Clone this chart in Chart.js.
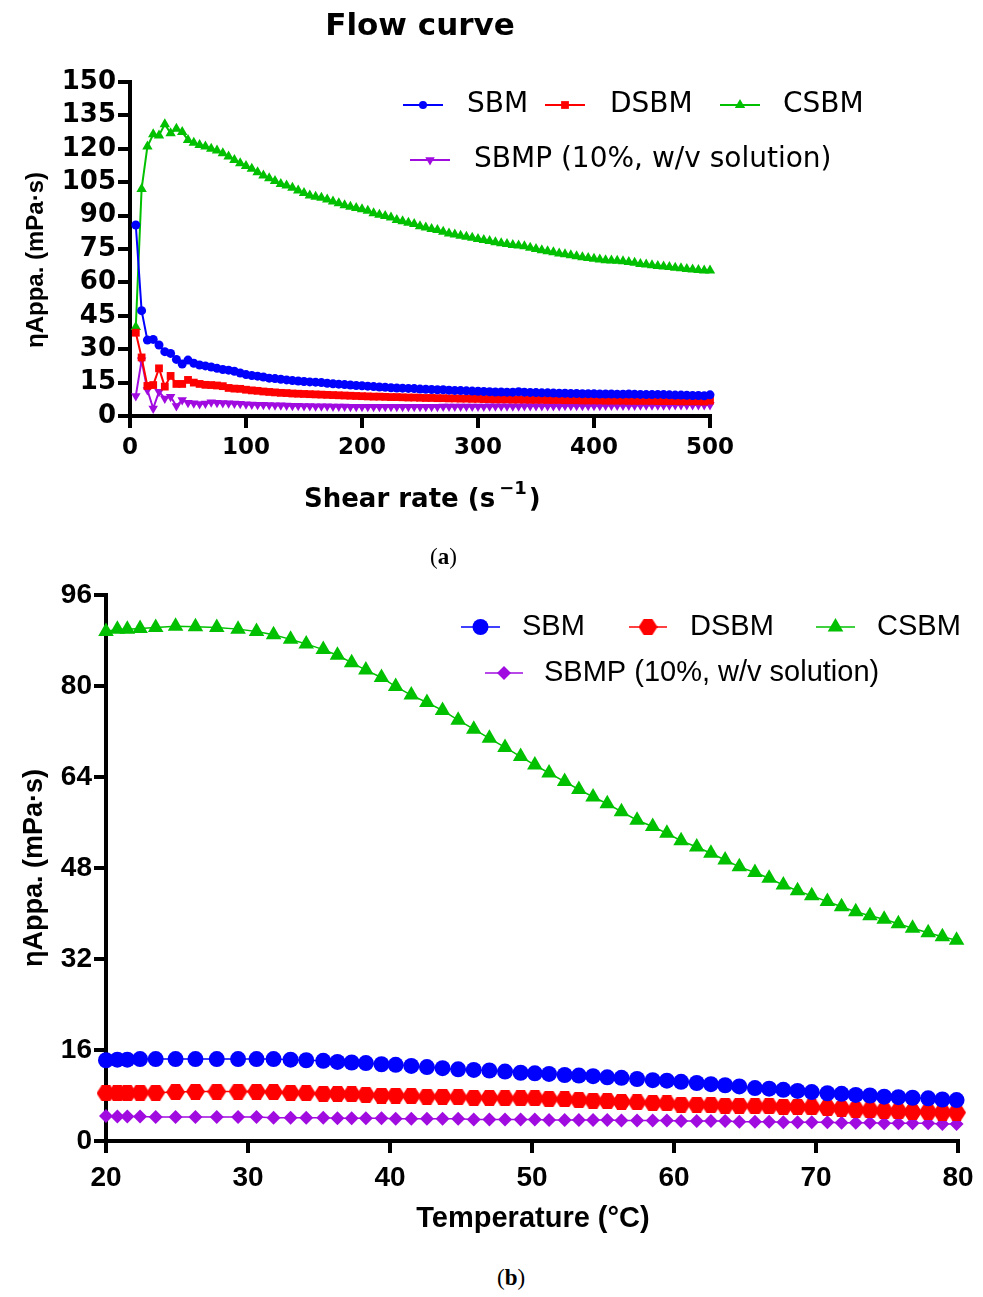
<!DOCTYPE html>
<html>
<head>
<meta charset="utf-8">
<script src="https://cdn.jsdelivr.net/npm/chart.js@4.4.0/dist/chart.umd.min.js"></script>
<style>
  html, body { margin: 0; padding: 0; background: #fff; }
  #page { position: relative; width: 983px; height: 1297px; overflow: hidden; }
  .box { position: absolute; left: 0; width: 983px; }
  #boxA { top: 0; height: 540px; }
  #boxB { top: 560px; height: 700px; }
  .cap { position: absolute; font-family: "Liberation Serif", serif; font-size: 23px; color: #000; }
</style>
</head>
<body>
<div id="page">
  <div class="box" id="boxA"><canvas id="chartA" width="983" height="540"></canvas></div>
  <div class="box" id="boxB"><canvas id="chartB" width="983" height="700"></canvas></div>
  <div class="cap" style="left:430px; top:544px">(<b>a</b>)</div>
  <div class="cap" style="left:497px; top:1265px">(<b>b</b>)</div>
</div>
<script>
// --- 1. Daten (a): Flow curve ---
const shearRate = [5,10,15,20,25,30,35,40,45,50,55,60,65,70,75,80,85,90,95,100,
  105,110,115,120,125,130,135,140,145,150,155,160,165,170,175,180,185,190,195,200,
  205,210,215,220,225,230,235,240,245,250,255,260,265,270,275,280,285,290,295,300,
  305,310,315,320,325,330,335,340,345,350,355,360,365,370,375,380,385,390,395,400,
  405,410,415,420,425,430,435,440,445,450,455,460,465,470,475,480,485,490,495,500];

const sbmA = [85.8,47.3,34.1,34.4,31.9,28.9,28.1,25.4,23.3,25.1,
  23.7,22.9,22.5,22.0,21.4,20.9,20.6,20.1,19.3,18.6,
  18.2,17.9,17.5,17.0,16.8,16.5,16.2,15.9,15.7,15.5,
  15.3,15.2,15.0,14.7,14.5,14.3,14.1,13.9,13.7,13.6,
  13.4,13.2,13.0,12.9,12.7,12.6,12.5,12.4,12.3,12.1,
  12.0,11.9,11.8,11.8,11.6,11.5,11.4,11.3,11.2,11.1,
  11.0,10.9,10.8,10.8,10.7,10.7,10.9,10.7,10.6,10.5,
  10.4,10.4,10.3,10.2,10.2,10.1,10.1,10.0,10.0,10.0,
  9.9,9.9,9.9,9.8,9.8,9.9,9.8,9.7,9.6,9.6,
  9.7,9.6,9.5,9.4,9.4,9.3,9.2,9.2,9.1,9.5];

const dsbmA = [37.4,26.3,13.5,13.9,21.4,13.2,18.0,14.4,14.4,16.2,
  15.0,14.4,14.0,13.9,13.7,13.4,12.6,12.3,12.2,11.8,
  11.5,11.3,11.0,10.8,10.6,10.4,10.3,10.1,10.0,9.9,
  9.8,9.7,9.6,9.5,9.4,9.3,9.2,9.1,9.0,8.9,
  8.8,8.7,8.7,8.6,8.5,8.5,8.4,8.3,8.3,8.2,
  8.1,8.1,8.0,8.0,7.9,7.9,7.8,7.8,7.7,7.7,
  7.6,7.6,7.5,7.5,7.5,7.4,7.4,7.4,7.3,7.3,
  7.3,7.2,7.2,7.2,7.1,7.1,7.1,7.0,7.0,7.0,
  7.0,6.9,6.9,6.9,6.9,6.8,6.8,6.8,6.8,6.8,
  6.7,6.7,6.7,6.7,6.6,6.6,6.6,6.6,6.5,6.9];

const csbmA = [40.0,102.0,121.0,126.5,126.0,131.0,127.0,129.0,127.5,124.0,
  122.7,121.7,121.0,120.0,119.2,118.0,116.5,115.0,113.5,112.3,
  111.0,109.5,108.0,106.8,105.5,104.2,103.5,102.5,101.3,100.2,
  99.0,98.5,98.0,97.2,96.3,95.5,94.7,94.0,93.4,92.8,
  92.2,91.0,90.4,89.8,89.2,88.0,87.5,86.8,86.2,85.2,
  84.6,84.0,83.5,82.8,82.0,81.5,81.0,80.5,80.0,79.5,
  79.0,78.6,78.0,77.6,77.2,76.8,76.6,76.2,75.6,75.0,
  74.4,74.0,73.5,73.0,72.6,72.2,71.8,71.3,71.0,70.6,
  70.3,70.0,69.8,69.7,69.5,69.2,68.8,68.3,68.0,67.7,
  67.4,67.1,66.9,66.6,66.3,66.0,65.8,65.6,65.3,65.3];

const sbmpA = [9.0,25.0,11.7,3.4,10.9,7.9,8.7,4.5,7.2,6.0,
  5.7,5.4,5.6,6.2,6.0,5.8,5.7,5.6,5.5,5.3,
  5.2,5.1,5.0,4.9,4.8,4.8,4.7,4.6,4.6,4.5,
  4.5,4.4,4.4,4.4,4.3,4.3,4.3,4.2,4.2,4.2,
  4.2,4.2,4.2,4.2,4.2,4.2,4.2,4.2,4.2,4.2,
  4.2,4.2,4.2,4.3,4.3,4.3,4.3,4.3,4.3,4.3,
  4.3,4.4,4.4,4.4,4.4,4.4,4.4,4.5,4.5,4.5,
  4.5,4.5,4.5,4.5,4.6,4.6,4.6,4.6,4.6,4.6,
  4.6,4.7,4.7,4.7,4.7,4.7,4.7,4.8,4.8,4.8,
  4.8,4.8,4.8,4.9,4.9,4.9,4.9,4.9,4.9,4.9];

// --- 2. Daten (b): Temperatur ---
const temperature = [20.0,20.8,21.5,22.4,23.5,24.9,26.3,27.8,29.3,30.6,
  31.8,33.0,34.1,35.3,36.3,37.3,38.3,39.4,40.4,41.5,
  42.6,43.7,44.8,45.9,47.0,48.1,49.2,50.2,51.2,52.3,
  53.3,54.3,55.3,56.3,57.4,58.5,59.5,60.5,61.6,62.6,
  63.6,64.6,65.7,66.7,67.7,68.7,69.7,70.8,71.8,72.8,
  73.8,74.8,75.8,76.8,77.9,78.9,79.9];

const sbmB = [14.2,14.3,14.3,14.4,14.4,14.4,14.4,14.4,14.4,14.4,
  14.4,14.3,14.2,14.1,13.9,13.8,13.7,13.5,13.4,13.2,
  13.0,12.8,12.6,12.5,12.4,12.2,12.0,11.9,11.8,11.6,
  11.5,11.4,11.2,11.1,10.9,10.7,10.6,10.4,10.2,10.0,
  9.8,9.6,9.3,9.2,9.0,8.8,8.6,8.4,8.3,8.1,
  8.0,7.8,7.7,7.6,7.5,7.3,7.2];

const dsbmB = [8.4,8.4,8.4,8.5,8.5,8.6,8.7,8.7,8.7,8.7,
  8.6,8.5,8.4,8.3,8.3,8.2,8.1,8.0,8.0,7.9,
  7.8,7.8,7.7,7.6,7.6,7.5,7.5,7.5,7.4,7.3,
  7.2,7.1,7.0,6.9,6.8,6.7,6.6,6.4,6.4,6.3,
  6.2,6.2,6.1,6.1,6.0,6.0,5.9,5.8,5.7,5.5,
  5.4,5.3,5.2,5.1,5.1,5.0,5.0];

const csbmB = [89.6,90.0,90.0,90.1,90.3,90.5,90.4,90.3,90.0,89.6,
  89.0,88.2,87.4,86.4,85.4,84.1,82.8,81.5,79.9,78.4,
  77.1,75.7,74.0,72.4,70.8,69.2,67.6,66.1,64.7,63.2,
  61.8,60.5,59.3,57.9,56.4,55.3,54.1,52.8,51.7,50.6,
  49.4,48.2,47.2,46.2,45.0,44.0,43.1,42.1,41.2,40.3,
  39.6,39.0,38.2,37.4,36.6,35.9,35.3];

const sbmpB = [4.4,4.3,4.3,4.3,4.2,4.2,4.2,4.2,4.2,4.2,
  4.1,4.1,4.1,4.1,4.0,4.0,4.0,4.0,3.9,3.9,
  3.9,3.9,3.9,3.8,3.8,3.8,3.8,3.8,3.7,3.7,
  3.7,3.7,3.7,3.6,3.6,3.6,3.6,3.5,3.5,3.5,
  3.5,3.4,3.4,3.4,3.3,3.3,3.3,3.3,3.2,3.2,
  3.2,3.1,3.1,3.1,3.1,3.0,3.0];

const ticksA_y = { min: 0, max: 150, step: 15 };
const ticksA_x = { min: 0, max: 500, step: 100 };
const ticksB_y = { min: 0, max: 96, step: 16 };
const ticksB_x = { min: 20, max: 80, step: 10 };

// --- 3. Farben ---
const BLUE = '#0000ff', RED = '#ff0000', GREEN = '#00c000', PURPLE = '#a00ce0';

// Hexagon-Marker (gibt es in Chart.js nicht)
function makeHex(w, h, color) {
  const c = document.createElement('canvas');
  c.width = w; c.height = h;
  const g = c.getContext('2d');
  g.fillStyle = color;
  g.beginPath();
  g.moveTo(0, h / 2); g.lineTo(w * 0.27, 0); g.lineTo(w * 0.73, 0);
  g.lineTo(w, h / 2); g.lineTo(w * 0.73, h); g.lineTo(w * 0.27, h);
  g.closePath(); g.fill();
  return c;
}
const hexImg = makeHex(19, 16, RED);

function pts(xs, ys) { return xs.map((x, i) => ({ x: x, y: ys[i] })); }

// Marker fuer die Legende
function drawMark(ctx, style, x, y, r, color) {
  ctx.fillStyle = color;
  ctx.beginPath();
  if (style === 'circle') {
    ctx.arc(x, y, r, 0, Math.PI * 2);
  } else if (style === 'rect') {
    const s = r * Math.SQRT1_2;
    ctx.rect(x - s, y - s, 2 * s, 2 * s);
  } else if (style === 'triangle' || style === 'invtriangle') {
    const d = style === 'triangle' ? 1 : -1;
    for (let k = 0; k < 3; k++) {
      const a = k * 2 * Math.PI / 3;
      ctx.lineTo(x + Math.sin(a) * r, y - d * Math.cos(a) * r);
    }
  } else if (style === 'diamond') {
    ctx.moveTo(x, y - r); ctx.lineTo(x + r, y); ctx.lineTo(x, y + r); ctx.lineTo(x - r, y);
  } else if (style === 'hex') {
    ctx.drawImage(hexImg, x - hexImg.width / 2, y - hexImg.height / 2);
    return;
  }
  ctx.closePath();
  ctx.fill();
}

// Titel, Achsentitel und Legende selbst zeichnen
const overlay = {
  id: 'overlay',
  afterDraw(chart, args, opts) {
    const ctx = chart.ctx;
    ctx.save();
    ctx.fillStyle = '#000';
    (opts.texts || []).forEach(t => {
      ctx.save();
      ctx.font = t.font;
      ctx.fillStyle = '#000';
      ctx.textAlign = t.align || 'left';
      ctx.textBaseline = t.baseline || 'middle';
      ctx.translate(t.x, t.y);
      if (t.rotate) ctx.rotate(t.rotate);
      ctx.fillText(t.text, 0, 0);
      ctx.restore();
    });
    (opts.keys || []).forEach(k => {
      ctx.strokeStyle = k.color;
      ctx.lineWidth = k.lw;
      ctx.beginPath();
      ctx.moveTo(k.x0, k.y); ctx.lineTo(k.x1, k.y);
      ctx.stroke();
      drawMark(ctx, k.style, (k.x0 + k.x1) / 2, k.y, k.r, k.color);
      ctx.font = k.font;
      ctx.fillStyle = '#000';
      ctx.textAlign = 'left';
      ctx.textBaseline = 'middle';
      ctx.fillText(k.label, k.tx, k.y);
    });
    if (opts.after) opts.after(ctx);
    ctx.restore();
  }
};

function axis(range, size, family, pad, fit) {
  return {
    type: 'linear', min: range.min, max: range.max,
    ticks: { stepSize: range.step, autoSkip: false, color: '#000', padding: pad,
             font: { family: family, weight: 'bold', size: size } },
    grid: { display: true, drawOnChartArea: false, drawTicks: true, tickLength: 12, color: '#000', lineWidth: 4 },
    border: { display: true, color: '#000', width: 4 },
    afterFit: fit
  };
}

// --- 4. Chart (a) ---
const legA = '28px "DejaVu Sans"';
new Chart(document.getElementById('chartA'), {
  type: 'line',
  data: {
    datasets: [
      { label: 'SBM', data: pts(shearRate, sbmA), borderColor: BLUE, backgroundColor: BLUE, pointStyle: 'circle', pointRadius: 4.5 },
      { label: 'DSBM', data: pts(shearRate, dsbmA), borderColor: RED, backgroundColor: RED, pointStyle: 'rect', pointRadius: 5.5 },
      { label: 'CSBM', data: pts(shearRate, csbmA), borderColor: GREEN, backgroundColor: GREEN, pointStyle: 'triangle', pointRadius: 6 },
      { label: 'SBMP (10%, w/v solution)', data: pts(shearRate, sbmpA), borderColor: PURPLE, backgroundColor: PURPLE, pointStyle: 'triangle', pointRotation: 180, pointRadius: 5.5 }
    ].map(d => Object.assign(d, { borderWidth: 2, pointBorderWidth: 0, tension: 0, clip: false }))
  },
  options: {
    responsive: false, animation: false, events: [],
    layout: { padding: { left: 0, right: 273, top: 82, bottom: 0 } },
    scales: {
      x: axis(ticksA_x, 23, 'DejaVu Sans', 6, s => { s.height = 540 - 416; }),
      y: axis(ticksA_y, 26, 'DejaVu Sans', 2, s => { s.width = 130; })
    },
    plugins: {
      legend: { display: false }, tooltip: { enabled: false },
      overlay: {
        texts: [
          { text: 'Flow curve', x: 420, y: 27, align: 'center', font: 'bold 31px "DejaVu Sans"' },
          { text: 'ηAppa. (mPa·s)', x: 36, y: 260, align: 'center', rotate: -Math.PI / 2, font: 'bold 24px "Liberation Sans"' }
        ],
        keys: [
          { label: 'SBM', color: BLUE, style: 'circle', r: 4, x0: 403, x1: 443, y: 105, tx: 467, lw: 2, font: legA },
          { label: 'DSBM', color: RED, style: 'rect', r: 5.5, x0: 545, x1: 585, y: 105, tx: 610, lw: 2, font: legA },
          { label: 'CSBM', color: GREEN, style: 'triangle', r: 6, x0: 720, x1: 760, y: 105, tx: 783, lw: 2, font: legA },
          { label: 'SBMP (10%, w/v solution)', color: PURPLE, style: 'invtriangle', r: 5.5, x0: 410, x1: 450, y: 160, tx: 474, lw: 2, font: legA }
        ],
        after: ctx => {
          // Achsentitel mit Hochstellung
          ctx.fillStyle = '#000';
          ctx.textAlign = 'left';
          ctx.textBaseline = 'alphabetic';
          let x = 304;
          ctx.font = 'bold 26px "DejaVu Sans"';
          ctx.fillText('Shear rate (s', x, 507);
          x += ctx.measureText('Shear rate (s').width + 4;
          ctx.font = 'bold 18px "DejaVu Sans"';
          ctx.fillText('−1', x, 494);
          x += ctx.measureText('−1').width + 2;
          ctx.font = 'bold 26px "DejaVu Sans"';
          ctx.fillText(')', x, 507);
        }
      }
    }
  },
  plugins: [overlay]
});

// --- 5. Chart (b) ---
const legB = '29px "Liberation Sans"';
const yOff = 560;
new Chart(document.getElementById('chartB'), {
  type: 'line',
  data: {
    datasets: [
      { label: 'SBM', data: pts(temperature, sbmB), borderColor: BLUE, backgroundColor: BLUE, pointStyle: 'circle', pointRadius: 8 },
      { label: 'DSBM', data: pts(temperature, dsbmB), borderColor: RED, backgroundColor: RED, pointStyle: hexImg, pointRadius: 8 },
      { label: 'CSBM', data: pts(temperature, csbmB), borderColor: GREEN, backgroundColor: GREEN, pointStyle: 'triangle', pointRadius: 9 },
      { label: 'SBMP (10%, w/v solution)', data: pts(temperature, sbmpB), borderColor: PURPLE, backgroundColor: PURPLE, pointStyle: 'rectRot', pointRadius: 7 }
    ].map(d => Object.assign(d, { borderWidth: 1.5, pointBorderWidth: 0, tension: 0, clip: false }))
  },
  options: {
    responsive: false, animation: false, events: [],
    layout: { padding: { left: 0, right: 25, top: 595 - yOff, bottom: 0 } },
    scales: {
      x: axis(ticksB_x, 28, 'Liberation Sans', 8, s => { s.height = 700 - (1141 - yOff); }),
      y: axis(ticksB_y, 28, 'Liberation Sans', 2, s => { s.width = 106; })
    },
    plugins: {
      legend: { display: false }, tooltip: { enabled: false },
      overlay: {
        texts: [
          { text: 'Temperature (°C)', x: 533, y: 1219 - yOff, align: 'center', font: 'bold 29px "Liberation Sans"' },
          { text: 'ηAppa. (mPa·s)', x: 35, y: 868 - yOff, align: 'center', rotate: -Math.PI / 2, font: 'bold 27px "Liberation Sans"' }
        ],
        keys: [
          { label: 'SBM', color: BLUE, style: 'circle', r: 8, x0: 461, x1: 500, y: 627 - yOff, tx: 522, lw: 1.5, font: legB },
          { label: 'DSBM', color: RED, style: 'hex', r: 8, x0: 629, x1: 667, y: 627 - yOff, tx: 690, lw: 1.5, font: legB },
          { label: 'CSBM', color: GREEN, style: 'triangle', r: 9, x0: 816, x1: 855, y: 627 - yOff, tx: 877, lw: 1.5, font: legB },
          { label: 'SBMP (10%, w/v solution)', color: PURPLE, style: 'diamond', r: 7, x0: 485, x1: 523, y: 673 - yOff, tx: 544, lw: 1.5, font: legB }
        ]
      }
    }
  },
  plugins: [overlay]
});
</script>
</body>
</html>
